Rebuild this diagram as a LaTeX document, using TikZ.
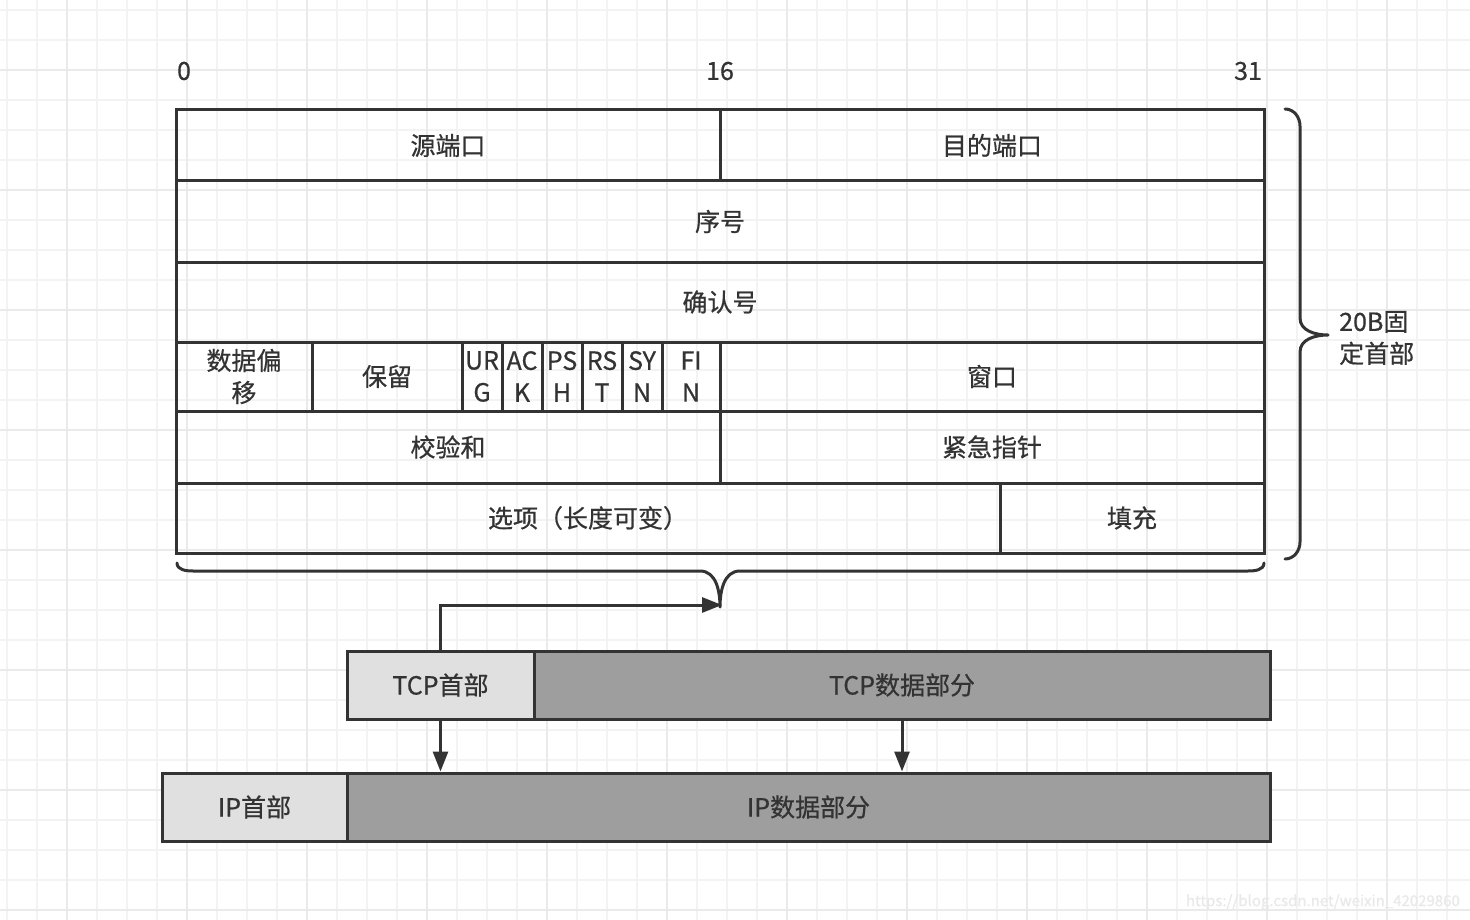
\documentclass[tikz,border=0pt]{standalone}
\usepackage{fontspec}
\setmainfont{Noto Sans CJK SC}[FakeBold=0.6]
\usetikzlibrary{arrows.meta}
\definecolor{ink}{HTML}{333333}
\definecolor{lightfill}{HTML}{E0E0E0}
\definecolor{darkfill}{HTML}{9E9E9E}
\definecolor{gridminor}{HTML}{F3F3F3}
\definecolor{gridmajor}{HTML}{EAEAEA}
\definecolor{wmark}{HTML}{E9E9E9}
\tikzset{
  cell/.style={draw=ink, line width=3pt, inner sep=0pt, text=ink, align=center,
    font=\fontsize{25}{32}\selectfont},
  lightcell/.style={cell, fill=lightfill},
  darkcell/.style={cell, fill=darkfill},
  bitlabel/.style={text=ink, font=\fontsize{25}{28}\selectfont, inner sep=0pt},
  curly/.style={draw=ink, line width=3pt, line cap=round, line join=round},
  arr/.style={draw=ink, line width=3pt, -{Triangle[length=20pt,width=15pt]}},
}
\begin{document}
\begin{tikzpicture}[x=1pt,y=-1pt]
\useasboundingbox (0,0) rectangle (1470,920);
\fill[white] (0,0) rectangle (1470,920);
% grid
\foreach \x in {7,37,...,1467} \draw[gridminor, line width=1.5pt] (\x,0) -- (\x,920);
\foreach \y in {10,40,...,910} \draw[gridminor, line width=1.5pt] (0,\y) -- (1470,\y);
\foreach \x in {67,187,...,1447} \draw[gridmajor, line width=1.5pt] (\x,0) -- (\x,920);
\foreach \y in {70,190,...,910} \draw[gridmajor, line width=1.5pt] (0,\y) -- (1470,\y);

% bit labels
\node[bitlabel] (b0) at (184,71) {0};
\node[bitlabel] (b16) at (720,71) {16};
\node[bitlabel] (b31) at (1248,71) {31};

% row 1
\node[cell, minimum width=544pt, minimum height=71pt] (src) at (448,145.5) {源端口};
\node[cell, minimum width=544pt, minimum height=71pt] (dst) at (992,145.5) {目的端口};
% row 2
\node[cell, minimum width=1088pt, minimum height=81pt] (seq) at (720,221.5) {序号};
% row 3
\node[cell, minimum width=1088pt, minimum height=80pt] (ackn) at (720,302) {确认号};
% row 4
\node[cell, minimum width=136pt, minimum height=69pt] (off) at (244,376.5) {数据偏\\移};
\node[cell, minimum width=150pt, minimum height=69pt] (rsv) at (387,376.5) {保留};
\node[cell, minimum width=40pt, minimum height=69pt] (furg) at (482,376.5) {UR\\G};
\node[cell, minimum width=40pt, minimum height=69pt] (fack) at (522,376.5) {AC\\K};
\node[cell, minimum width=40pt, minimum height=69pt] (fpsh) at (562,376.5) {PS\\H};
\node[cell, minimum width=40pt, minimum height=69pt] (frst) at (602,376.5) {RS\\T};
\node[cell, minimum width=40pt, minimum height=69pt] (fsyn) at (642,376.5) {SY\\N};
\node[cell, minimum width=58pt, minimum height=69pt] (ffin) at (691,376.5) {FI\\N};
\node[cell, minimum width=544pt, minimum height=69pt] (win) at (992,376.5) {窗口};
% row 5
\node[cell, minimum width=544pt, minimum height=72pt] (chk) at (448,447) {校验和};
\node[cell, minimum width=544pt, minimum height=72pt] (uptr) at (992,447) {紧急指针};
% row 6
\node[cell, minimum width=824pt, minimum height=70pt] (opt) at (588,518) {选项（长度可变）};
\node[cell, minimum width=264pt, minimum height=70pt] (pad) at (1132,518) {填充};

% right brace
\draw[curly] (1285,109) to[out=0,in=90] (1300,126) -- (1300,318)
  to[out=-90,in=180] (1328,335) to[out=180,in=90] (1300,352) -- (1300,542)
  to[out=-90,in=0] (1285,559);
\node[text=ink, font=\fontsize{25}{32}\selectfont, align=left, anchor=west, inner sep=0pt]
  (hdr) at (1339,338) {20B固\\定首部};

% bottom brace
\draw[curly] (177,563) to[out=-90,in=180] (193,571) -- (700,571)
  to[out=0,in=90] (720,607) to[out=90,in=180] (740,571) -- (1248,571)
  to[out=0,in=-90] (1264,563);
\coordinate (tip) at (722,605);

% TCP segment
\node[lightcell, minimum width=187pt, minimum height=68pt] (tcph) at (440.5,685) {TCP首部};
\node[darkcell, minimum width=736pt, minimum height=68pt] (tcpd) at (902,685) {TCP数据部分};
% IP datagram
\node[lightcell, minimum width=185pt, minimum height=68pt] (iph) at (254.5,807) {IP首部};
\node[darkcell, minimum width=923pt, minimum height=68pt] (ipd) at (808.5,807) {IP数据部分};

% arrows
\draw[arr] (tcph.north) |- (tip);
\draw[arr] (tcph.south) -- (tcph.south |- ipd.north);
\draw[arr] (tcpd.south) -- (tcpd.south |- ipd.north);

% watermark
\node[text=wmark, font=\fontsize{15}{18}\selectfont, anchor=east, inner sep=0pt] (wm) at (1460,902) {https://blog.csdn.net/weixin\_42029860};
\end{tikzpicture}
\end{document}
